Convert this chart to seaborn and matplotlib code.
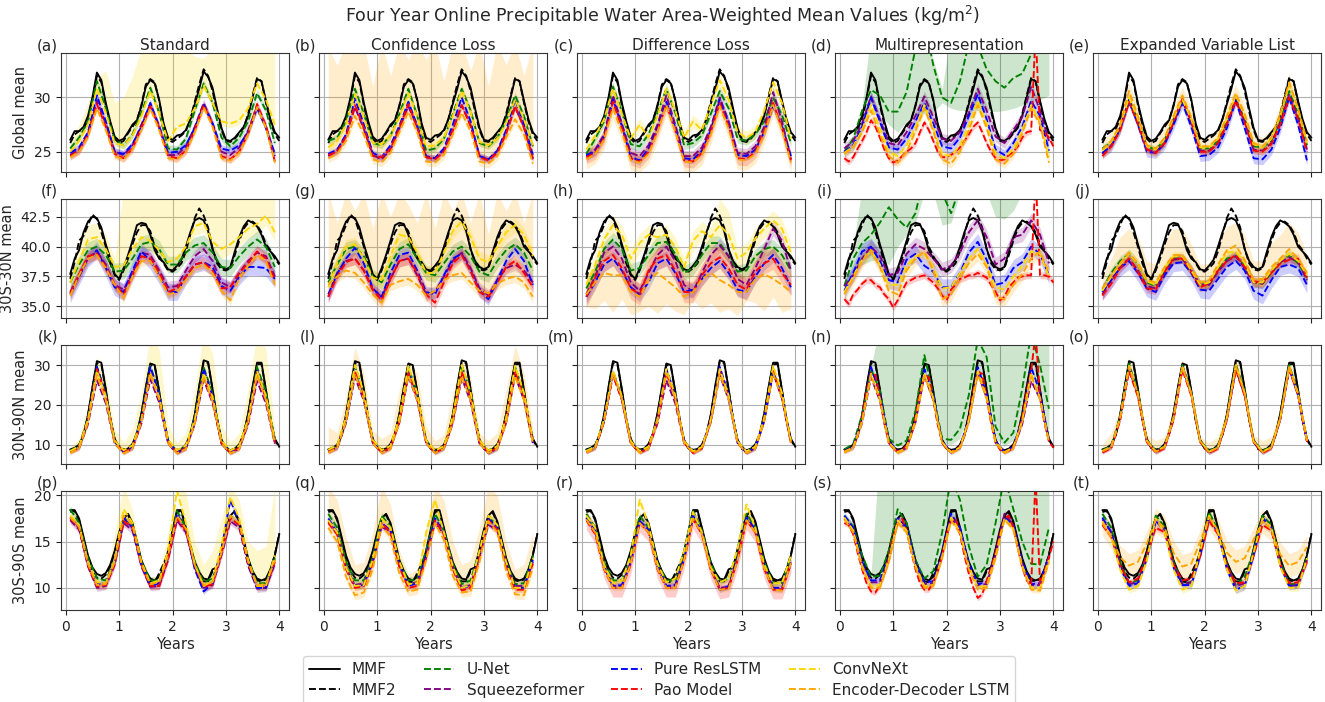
import numpy as np
import matplotlib
matplotlib.use("Agg")
import matplotlib.pyplot as plt
from matplotlib.lines import Line2D
import seaborn as sns

# ---------------------------------------------------------------- data
monthly_years = np.arange(1, 49) / 12.0        # 48 monthly samples
bimonthly_years = np.arange(1, 48, 2) / 12.0   # 24 samples (odd months)

experiments = ["Standard", "Confidence Loss", "Difference Loss",
               "Multirepresentation", "Expanded Variable List"]
regions = ["Global mean", "30S-30N mean", "30N-90N mean", "30S-90S mean"]
model_names = ["U-Net", "Squeezeformer", "Pure ResLSTM", "Pao Model",
               "ConvNeXt", "Encoder-Decoder LSTM"]
model_colors = ["green", "purple", "blue", "red", "gold", "orange"]
panel_letters = "abcdefghijklmnopqrst"
region_yticks = [[25, 30], [35.0, 37.5, 40.0, 42.5], [10, 20, 30], [10, 15, 20]]
region_ylims = [(23.1, 34.1), (34.0, 44.0), (5.1, 35.1), (7.6, 20.5)]

# reference simulations (monthly)
mmf_global = [26.1, 26.9, 26.9, 27.3, 28.3, 30.0, 32.3, 31.6, 29.5, 27.8, 26.4, 26.0,
              26.2, 26.8, 27.5, 27.9, 29.2, 31.0, 31.6, 31.3, 29.8, 27.6, 26.3, 26.1,
              26.5, 26.6, 27.0, 28.0, 29.4, 30.8, 32.4, 31.9, 30.9, 29.0, 27.2, 26.1,
              26.0, 26.3, 26.8, 27.3, 28.3, 30.0, 31.7, 31.5, 29.7, 28.0, 26.8, 26.3]
mmf2_global = [25.8, 26.6, 26.9, 27.1, 28.0, 29.8, 32.0, 31.4, 29.3, 27.5, 26.2, 25.8,
               26.0, 26.7, 27.3, 27.9, 29.3, 31.2, 31.7, 31.4, 29.7, 27.4, 26.1, 25.9,
               26.2, 26.5, 26.9, 28.0, 29.6, 31.2, 32.6, 32.0, 30.6, 28.7, 27.0, 26.0,
               25.9, 26.2, 26.7, 27.2, 28.5, 30.2, 31.8, 31.5, 29.5, 27.8, 26.6, 26.0]
mmf_tropics = [37.7, 39.0, 39.7, 41.2, 42.1, 42.5, 42.4, 41.6, 40.2, 39.0, 37.7, 37.3,
               38.2, 39.3, 40.5, 41.8, 42.0, 41.9, 41.0, 39.7, 39.0, 38.7, 38.1, 38.0,
               38.4, 38.9, 40.0, 41.2, 42.2, 42.4, 42.2, 41.3, 39.8, 38.8, 38.3, 38.1,
               38.3, 39.6, 40.8, 41.7, 42.2, 42.0, 41.7, 41.0, 40.0, 39.6, 39.2, 38.6]
mmf2_tropics = [37.3, 38.7, 40.5, 40.9, 41.8, 42.7, 42.3, 41.2, 40.0, 38.6, 37.6, 37.2,
                38.0, 39.0, 40.2, 41.2, 41.8, 41.8, 41.3, 40.0, 39.2, 38.6, 38.0, 37.9,
                38.2, 38.6, 39.6, 41.0, 42.4, 43.2, 42.6, 41.6, 39.8, 38.6, 38.1, 38.0,
                38.2, 39.3, 40.5, 41.5, 42.0, 42.1, 41.8, 41.2, 40.2, 39.7, 39.0, 38.5]
mmf_north = [8.8, 9.2, 10.0, 12.5, 17.5, 24.5, 31.0, 30.6, 24.0, 16.5, 11.5, 9.3,
             8.8, 9.0, 10.2, 12.8, 17.8, 24.5, 30.4, 30.0, 23.5, 16.2, 11.2, 9.2,
             8.7, 8.9, 10.0, 12.6, 17.6, 24.8, 31.2, 30.8, 24.0, 16.5, 11.3, 9.1,
             8.6, 9.0, 10.1, 12.7, 17.8, 24.6, 30.6, 30.6, 23.8, 16.4, 11.5, 9.5]
mmf2_north = [8.6, 9.0, 9.8, 12.3, 17.3, 24.2, 30.5, 30.2, 23.6, 16.2, 11.3, 9.1,
              8.6, 8.9, 10.0, 12.6, 17.6, 24.2, 30.0, 29.8, 23.2, 16.0, 11.0, 9.0,
              8.5, 8.8, 9.8, 12.4, 17.4, 24.5, 30.8, 30.5, 23.8, 16.3, 11.1, 8.9,
              8.5, 8.8, 9.9, 12.5, 17.6, 24.3, 30.2, 30.3, 23.5, 16.2, 11.3, 9.3]
mmf_south = [18.4, 18.4, 17.5, 15.5, 13.5, 12.2, 11.5, 11.3, 11.6, 12.5, 14.0, 16.0,
             17.5, 18.0, 17.0, 15.0, 13.0, 11.8, 11.0, 10.8, 11.2, 12.2, 14.0, 16.2,
             18.4, 18.4, 16.5, 14.5, 12.8, 11.7, 11.0, 10.9, 12.0, 12.2, 14.2, 16.3,
             17.8, 18.3, 17.2, 15.2, 13.2, 11.8, 11.0, 10.8, 11.0, 12.0, 13.5, 15.8]
mmf2_south = [18.2, 18.3, 17.3, 15.3, 13.2, 11.8, 11.1, 11.0, 11.4, 12.3, 13.8, 15.8,
              17.4, 17.9, 16.8, 14.8, 12.8, 11.5, 10.7, 10.6, 11.6, 12.6, 13.8, 16.0,
              18.2, 18.3, 16.3, 14.3, 12.5, 11.4, 10.7, 10.7, 11.8, 12.2, 14.0, 16.1,
              17.6, 18.1, 17.0, 15.0, 13.0, 11.5, 10.8, 10.7, 10.9, 11.9, 13.6, 15.9]

# ---- emulator means, Global mean row
panel_a = {
    "U-Net": [25.3, 26.3, 27.8, 31.5, 29.0, 26.0, 25.6, 26.6, 28.6, 30.9, 28.6, 25.3,
              25.2, 26.2, 28.8, 31.3, 29.5, 26.3, 25.5, 26.3, 27.8, 30.4, 28.8, 25.8],
    "Squeezeformer": [24.7, 25.2, 26.6, 29.7, 27.6, 25.0, 24.7, 25.6, 27.5, 29.4, 27.4, 24.7,
                      24.7, 25.5, 27.3, 29.5, 27.6, 25.0, 24.7, 25.4, 27.0, 29.2, 27.3, 24.6],
    "Pure ResLSTM": [24.9, 25.4, 26.8, 30.2, 27.8, 25.0, 24.8, 25.7, 27.3, 29.5, 27.2, 24.9,
                     25.0, 25.6, 27.2, 29.3, 27.6, 25.3, 25.1, 25.6, 26.8, 29.0, 27.2, 24.8],
    "Pao Model": [24.6, 25.1, 26.6, 29.4, 27.3, 24.8, 24.4, 25.3, 27.2, 29.2, 27.2, 24.6,
                  24.4, 25.1, 27.0, 29.3, 27.5, 24.6, 24.3, 25.0, 26.7, 29.4, 27.4, 24.1],
    "ConvNeXt": [25.0, 26.0, 27.5, 30.8, 28.6, 25.8, 25.6, 26.5, 28.3, 30.6, 28.5, 26.0,
                 27.3, 27.6, 29.0, 31.1, 29.5, 27.8, 27.6, 27.9, 29.0, 31.3, 29.8, 27.5],
    "Encoder-Decoder LSTM": [24.5, 25.0, 26.4, 29.0, 27.0, 24.6, 24.3, 25.2, 27.0, 29.0, 27.0, 24.4,
                             24.3, 25.0, 26.8, 29.1, 27.3, 24.4, 24.2, 24.9, 26.6, 29.1, 27.2, 24.0],
}
panel_b = {
    "U-Net": [26.0, 26.3, 27.8, 30.8, 28.5, 25.8, 25.6, 26.5, 28.5, 30.8, 28.3, 25.1,
              25.3, 26.2, 28.5, 30.8, 28.8, 25.8, 25.5, 26.3, 27.9, 30.2, 28.3, 25.5],
    "Squeezeformer": [24.6, 25.1, 26.5, 29.1, 27.1, 24.7, 24.3, 25.2, 27.2, 29.2, 27.3, 24.6,
                      24.4, 25.2, 27.0, 29.3, 27.4, 24.6, 24.3, 25.0, 26.8, 29.1, 27.3, 24.3],
    "Pure ResLSTM": [24.8, 25.2, 26.6, 29.9, 27.5, 24.9, 24.5, 25.6, 27.4, 29.6, 27.4, 24.5,
                     24.4, 25.3, 27.5, 30.0, 27.8, 24.6, 24.3, 25.1, 27.0, 29.8, 27.6, 24.7],
    "Pao Model": [24.7, 25.0, 26.4, 29.3, 27.2, 24.6, 24.5, 25.3, 27.2, 29.4, 27.2, 24.5,
                  24.3, 25.0, 27.0, 29.3, 27.4, 24.5, 24.2, 24.9, 26.7, 29.2, 27.2, 24.4],
    "ConvNeXt": [25.4, 26.0, 27.5, 30.3, 28.2, 25.8, 25.7, 26.5, 28.2, 30.4, 28.2, 25.5,
                 25.6, 26.3, 28.3, 30.6, 28.6, 25.9, 25.6, 26.2, 27.7, 29.8, 28.0, 25.6],
    "Encoder-Decoder LSTM": [24.4, 24.8, 26.0, 28.3, 26.6, 24.3, 24.0, 24.9, 26.8, 28.7, 26.8, 24.1,
                             24.0, 24.7, 26.6, 28.6, 26.9, 24.1, 23.9, 24.6, 26.3, 28.0, 26.6, 23.9],
}
panel_c = {
    "U-Net": [24.8, 26.2, 27.8, 31.0, 28.7, 25.7, 25.5, 26.6, 28.6, 30.8, 28.6, 25.6,
              25.8, 26.5, 28.5, 30.6, 29.0, 26.2, 26.0, 26.6, 27.8, 30.0, 28.4, 25.8],
    "Squeezeformer": [24.6, 25.2, 26.6, 30.2, 27.6, 24.9, 24.6, 25.6, 27.5, 30.2, 27.5, 24.6,
                      24.6, 25.4, 27.3, 30.0, 27.8, 24.9, 24.8, 25.5, 27.3, 30.5, 27.8, 24.3],
    "Pure ResLSTM": [24.7, 25.0, 26.4, 29.8, 27.4, 24.5, 24.2, 25.3, 27.2, 29.6, 27.2, 24.4,
                     24.3, 25.1, 27.0, 29.8, 27.6, 24.7, 24.6, 25.2, 26.8, 29.2, 27.3, 24.6],
    "Pao Model": [24.5, 24.9, 26.3, 29.6, 27.2, 24.4, 24.1, 25.0, 27.0, 29.3, 27.0, 24.2,
                  24.1, 24.9, 26.9, 29.5, 27.4, 24.4, 24.3, 25.0, 26.9, 29.5, 27.2, 24.2],
    "ConvNeXt": [25.2, 26.5, 28.0, 30.8, 28.5, 26.2, 27.5, 26.3, 28.3, 30.8, 28.8, 26.3,
                 27.8, 27.0, 29.3, 31.6, 29.8, 26.8, 26.3, 26.8, 28.8, 31.4, 29.5, 26.2],
    "Encoder-Decoder LSTM": [24.3, 24.8, 26.1, 29.0, 26.8, 24.2, 24.0, 24.8, 26.8, 29.3, 26.9, 24.1,
                             24.0, 24.7, 26.6, 29.2, 27.1, 24.3, 24.2, 24.8, 26.6, 29.3, 27.0, 24.0],
}
panel_d = {
    "U-Net": [25.0, 26.2, 28.8, 30.7, 30.2, 28.7, 28.7, 30.5, 34.5, 37.0, 33.0, 30.0,
              29.5, 31.5, 35.0, 34.8, 32.6, 31.5, 30.9, 31.8, 32.2, 34.0, 36.5, 37.0],
    "Squeezeformer": [25.3, 26.0, 27.6, 30.1, 28.0, 25.8, 25.6, 26.8, 28.3, 30.1, 28.2, 26.2,
                      26.0, 26.8, 28.6, 30.8, 28.8, 26.4, 25.8, 27.0, 28.2, 31.0, 28.8, 26.0],
    "Pure ResLSTM": [25.0, 25.6, 27.3, 30.0, 27.8, 25.4, 25.2, 26.2, 27.8, 29.5, 27.6, 25.5,
                     25.3, 26.3, 28.3, 30.3, 28.0, 25.2, 24.7, 25.8, 27.3, 29.7, 28.3, 25.1],
    "Pao Model": [24.4, 24.1, 24.5, 25.3, 26.0, 26.8, 27.9, 27.3, 26.3, 25.2, 24.4, 24.0,
                  24.2, 24.6, 25.0, 25.3, 25.8, 26.8, 27.7, 27.0, 26.0, 25.0, 24.5, 24.5,
                  24.7, 25.0, 25.4, 26.0, 26.6, 27.3, 27.7, 26.8, 25.8, 25.0, 24.4, 24.2,
                  24.3, 24.7, 25.0, 25.5, 26.3, 26.8, 26.9, 36.0, 27.0, 26.8, 26.3, 25.5],
    "ConvNeXt": [24.9, 25.5, 27.0, 29.3, 27.2, 25.0, 24.6, 25.6, 27.3, 29.3, 27.2, 24.8,
                 24.6, 25.6, 27.5, 29.7, 27.6, 24.8, 24.4, 25.3, 27.0, 29.3, 27.8, 24.5],
    "Encoder-Decoder LSTM": [24.8, 25.4, 26.8, 28.8, 26.6, 24.6, 24.0, 25.0, 26.9, 29.0, 26.9, 24.3,
                             23.9, 25.0, 27.0, 29.3, 27.2, 24.3, 23.9, 24.8, 26.7, 29.0, 27.5, 24.0],
}
panel_e = {
    "U-Net": [25.3, 25.9, 27.3, 29.8, 27.9, 25.5, 25.2, 26.1, 28.0, 29.7, 27.9, 25.3,
              25.3, 26.0, 27.8, 29.8, 28.0, 25.5, 25.4, 26.0, 27.9, 30.6, 28.5, 25.6],
    "Squeezeformer": [24.8, 25.6, 27.1, 29.6, 27.6, 25.2, 25.0, 25.8, 27.7, 29.7, 27.7, 25.1,
                      25.1, 25.8, 27.6, 29.8, 27.8, 25.2, 25.1, 25.8, 27.7, 30.3, 28.1, 25.2],
    "Pure ResLSTM": [24.9, 25.5, 27.1, 29.8, 27.5, 25.0, 24.9, 25.7, 27.5, 29.5, 27.3, 24.6,
                     24.7, 25.4, 27.2, 29.7, 27.2, 24.4, 24.3, 25.2, 27.2, 30.0, 27.5, 24.2],
    "Pao Model": [24.6, 25.5, 27.0, 29.6, 27.6, 25.2, 24.9, 25.8, 27.8, 29.9, 27.8, 25.0,
                  25.0, 25.8, 27.6, 29.7, 27.7, 25.1, 25.0, 25.7, 27.5, 30.0, 28.0, 25.0],
    "ConvNeXt": [25.1, 25.9, 27.4, 30.0, 28.0, 25.5, 25.2, 26.2, 28.1, 29.8, 28.0, 25.4,
                 25.4, 26.2, 28.1, 30.2, 28.3, 25.7, 25.4, 26.2, 28.3, 31.2, 28.8, 25.8],
    "Encoder-Decoder LSTM": [25.2, 26.0, 27.5, 30.6, 28.3, 25.6, 25.3, 26.3, 28.3, 30.2, 28.2, 25.5,
                             25.5, 26.3, 28.3, 30.4, 28.5, 25.8, 25.5, 26.3, 28.5, 31.4, 29.0, 26.0],
}

# ---- 30S-30N row
panel_f = {
    "U-Net": [37.0, 38.5, 39.7, 40.0, 39.3, 37.9, 38.0, 39.0, 40.2, 40.4, 39.8, 38.5,
              38.5, 39.5, 40.1, 40.3, 39.5, 38.3, 38.2, 39.2, 40.0, 40.6, 40.0, 38.3],
    "Squeezeformer": [36.2, 37.6, 39.0, 39.6, 38.5, 36.8, 36.4, 37.8, 39.5, 39.3, 38.0, 36.6,
                      36.7, 38.0, 39.2, 39.8, 38.8, 37.0, 36.6, 37.8, 38.8, 39.5, 39.2, 37.5],
    "Pure ResLSTM": [36.0, 37.5, 39.0, 39.7, 38.2, 36.6, 36.2, 38.0, 39.6, 38.8, 37.6, 36.2,
                     36.2, 37.5, 38.5, 38.7, 38.3, 36.7, 36.3, 37.5, 38.3, 38.3, 38.2, 37.3],
    "Pao Model": [36.1, 37.7, 39.2, 39.4, 38.3, 36.8, 36.0, 37.6, 39.2, 39.0, 37.8, 36.2,
                  36.5, 37.5, 38.5, 38.7, 38.0, 36.5, 36.6, 37.8, 38.6, 39.6, 39.0, 37.2],
    "ConvNeXt": [37.0, 38.8, 40.6, 40.8, 39.8, 38.3, 38.4, 39.8, 40.8, 40.5, 39.7, 38.7,
                 39.0, 40.0, 41.7, 42.0, 40.4, 39.8, 40.2, 40.8, 41.5, 41.9, 42.6, 41.2],
    "Encoder-Decoder LSTM": [35.9, 37.6, 39.0, 39.3, 38.2, 36.8, 35.7, 37.5, 38.8, 38.8, 37.5, 36.0,
                             36.2, 37.2, 38.2, 38.5, 37.8, 36.3, 35.5, 37.4, 38.4, 39.3, 38.8, 36.8],
}
panel_g = {
    "U-Net": [37.0, 38.5, 39.8, 40.0, 39.2, 37.5, 37.0, 38.5, 39.8, 40.2, 39.0, 37.8,
              37.6, 38.6, 39.6, 40.0, 39.2, 37.9, 37.6, 38.8, 39.7, 40.2, 39.5, 38.0],
    "Squeezeformer": [35.8, 37.8, 38.8, 39.0, 38.0, 36.4, 35.8, 37.3, 38.8, 39.0, 37.6, 36.0,
                      36.2, 37.5, 38.8, 39.5, 38.2, 36.5, 35.9, 37.2, 38.2, 38.5, 38.0, 37.0],
    "Pure ResLSTM": [36.0, 37.7, 39.0, 39.9, 38.6, 36.5, 35.8, 37.8, 39.3, 39.5, 38.0, 36.2,
                     36.0, 37.6, 39.0, 39.4, 38.0, 36.3, 35.6, 37.2, 38.8, 39.8, 38.8, 36.8],
    "Pao Model": [35.8, 37.5, 38.7, 39.0, 38.0, 36.4, 35.5, 37.3, 38.8, 39.0, 37.8, 36.0,
                  35.3, 37.0, 38.6, 39.3, 38.0, 36.2, 35.8, 37.0, 38.3, 38.8, 37.8, 36.6],
    "ConvNeXt": [36.6, 38.6, 40.0, 40.2, 39.0, 37.4, 37.2, 39.2, 41.0, 40.8, 39.5, 37.8,
                 37.8, 39.5, 41.3, 42.1, 40.8, 39.0, 38.7, 40.0, 41.2, 41.8, 41.0, 39.2],
    "Encoder-Decoder LSTM": [36.8, 37.5, 38.0, 37.8, 37.0, 36.0, 35.3, 36.8, 37.1, 37.3, 36.8, 35.9,
                             36.3, 37.2, 37.6, 37.8, 37.0, 36.3, 36.1, 36.9, 37.3, 37.5, 37.0, 35.8],
}
panel_h = {
    "U-Net": [36.5, 37.9, 39.8, 40.6, 39.8, 38.0, 38.2, 39.3, 40.3, 40.4, 39.4, 37.8,
              38.2, 39.3, 40.3, 40.3, 39.2, 37.9, 38.0, 39.2, 39.8, 40.0, 39.3, 38.0],
    "Squeezeformer": [36.0, 37.5, 39.5, 40.0, 39.0, 37.0, 36.3, 37.8, 39.3, 40.0, 38.8, 36.8,
                      36.2, 37.8, 39.3, 40.1, 39.2, 37.3, 36.8, 38.2, 39.8, 41.5, 40.5, 38.0],
    "Pure ResLSTM": [35.8, 37.0, 38.5, 39.0, 38.0, 36.6, 36.0, 37.0, 38.6, 39.0, 37.8, 36.2,
                     36.4, 37.3, 38.2, 38.8, 37.8, 36.4, 36.2, 37.5, 38.6, 39.3, 38.2, 36.6],
    "Pao Model": [35.8, 37.4, 38.8, 39.3, 38.2, 36.5, 36.0, 38.0, 39.0, 39.3, 38.0, 36.2,
                  36.2, 37.6, 38.6, 39.1, 38.2, 36.8, 36.4, 37.9, 38.6, 39.0, 37.8, 36.8],
    "ConvNeXt": [36.8, 38.5, 40.6, 41.8, 41.0, 39.0, 40.3, 41.0, 40.8, 41.0, 40.0, 38.3,
                 40.5, 41.3, 40.8, 41.8, 41.0, 39.0, 39.5, 40.7, 41.5, 42.2, 41.5, 39.5],
    "Encoder-Decoder LSTM": [36.0, 37.0, 37.8, 37.6, 37.6, 36.2, 35.8, 37.2, 37.8, 37.2, 36.6, 35.8,
                             36.2, 37.3, 37.8, 37.2, 36.8, 36.2, 36.2, 37.3, 37.7, 37.3, 36.8, 36.2],
}
panel_i = {
    "U-Net": [36.7, 39.0, 40.3, 41.0, 42.0, 43.3, 42.3, 41.6, 42.8, 46.0, 47.0, 44.5,
              42.8, 45.0, 47.0, 48.0, 48.0, 48.0, 48.0, 48.0, 48.0, 48.0, 48.0, 48.0],
    "Squeezeformer": [36.7, 37.6, 39.0, 40.0, 39.2, 37.6, 37.8, 39.4, 40.2, 39.8, 39.0, 38.1,
                      38.4, 39.5, 41.2, 42.2, 40.8, 38.5, 39.0, 40.8, 41.0, 42.2, 41.0, 38.6],
    "Pure ResLSTM": [36.3, 37.8, 39.6, 40.0, 38.8, 37.2, 37.0, 38.9, 39.4, 38.4, 37.9, 36.6,
                     36.6, 37.8, 39.5, 40.4, 38.9, 36.8, 37.0, 38.2, 38.7, 40.0, 39.4, 37.6],
    "Pao Model": [35.6, 35.2, 36.0, 36.4, 36.9, 37.2, 37.2, 36.8, 36.6, 36.0, 35.6, 34.9,
                  35.5, 36.3, 37.0, 37.2, 37.4, 37.5, 37.6, 37.3, 37.0, 36.5, 35.9, 35.5,
                  36.4, 36.8, 37.3, 37.4, 37.6, 37.6, 37.8, 37.6, 37.4, 36.8, 36.2, 35.5,
                  35.8, 36.6, 37.0, 37.4, 37.5, 37.6, 37.6, 46.0, 37.6, 37.6, 37.5, 37.0],
    "ConvNeXt": [36.2, 37.5, 38.9, 39.6, 38.5, 36.8, 36.8, 38.4, 39.2, 39.4, 38.3, 36.5,
                 36.6, 37.8, 39.0, 39.8, 38.5, 36.6, 36.4, 37.5, 38.4, 39.6, 39.4, 37.5],
    "Encoder-Decoder LSTM": [36.0, 37.3, 38.8, 39.7, 38.3, 36.3, 36.0, 38.0, 39.0, 39.6, 38.0, 35.6,
                             36.0, 37.4, 38.6, 39.4, 38.3, 35.8, 35.6, 36.8, 37.7, 39.0, 39.6, 37.8],
}
panel_j = {
    "U-Net": [36.4, 37.8, 38.8, 39.4, 38.5, 37.0, 36.7, 38.0, 39.0, 39.0, 38.0, 36.8,
              36.9, 38.0, 39.0, 39.2, 38.5, 37.0, 36.9, 37.8, 38.7, 39.3, 38.6, 37.4],
    "Squeezeformer": [36.0, 37.2, 38.3, 39.0, 38.0, 36.7, 36.5, 37.8, 38.9, 39.0, 38.0, 36.8,
                      36.8, 37.9, 38.8, 39.2, 38.2, 37.0, 36.9, 37.9, 38.7, 39.1, 38.7, 37.2],
    "Pure ResLSTM": [36.2, 37.2, 38.2, 38.8, 37.8, 36.5, 36.2, 37.6, 38.6, 38.7, 37.8, 36.4,
                     36.3, 37.3, 38.3, 38.8, 38.0, 36.3, 35.9, 37.2, 38.3, 38.5, 38.2, 36.8],
    "Pao Model": [35.9, 36.9, 38.2, 39.0, 37.9, 36.5, 36.4, 37.9, 39.0, 39.0, 37.9, 36.6,
                  36.9, 38.0, 38.8, 39.3, 38.3, 37.1, 37.0, 37.8, 38.6, 38.9, 39.0, 37.4],
    "ConvNeXt": [36.3, 37.5, 38.5, 39.4, 38.5, 37.1, 36.8, 38.2, 39.2, 39.2, 38.0, 36.8,
                 37.0, 38.3, 39.5, 39.6, 38.6, 37.0, 37.0, 38.0, 38.8, 39.4, 38.8, 37.6],
    "Encoder-Decoder LSTM": [36.5, 37.6, 38.6, 39.5, 38.6, 37.2, 37.0, 38.3, 39.3, 39.3, 38.2, 37.0,
                             37.2, 38.5, 39.7, 40.1, 38.9, 37.2, 37.3, 38.3, 39.0, 39.8, 39.0, 37.8],
}

# ---- 30N-90N row
panel_k = {
    "U-Net": [8.5, 9.6, 16.7, 29.6, 22.8, 11.0, 8.4, 9.7, 16.8, 29.8, 23.0, 11.0,
              8.3, 9.5, 16.6, 29.5, 22.8, 10.9, 8.3, 9.5, 16.6, 29.5, 23.3, 11.2],
    "Squeezeformer": [8.1, 9.1, 15.2, 26.2, 20.4, 10.3, 8.0, 9.1, 15.3, 26.5, 20.6, 10.3,
                      7.9, 9.0, 15.2, 26.3, 20.5, 10.2, 7.9, 9.0, 15.1, 26.0, 20.3, 10.2],
    "Pure ResLSTM": [8.3, 9.4, 16.5, 29.5, 22.6, 10.8, 8.2, 9.4, 16.5, 29.6, 22.6, 10.8,
                     8.1, 9.3, 16.2, 29.0, 22.2, 10.6, 8.1, 9.2, 16.1, 28.8, 22.0, 10.6],
    "Pao Model": [8.2, 9.3, 16.3, 29.0, 22.2, 10.7, 8.1, 9.2, 15.9, 28.2, 21.7, 10.5,
                  8.0, 9.1, 15.6, 27.5, 21.2, 10.4, 8.0, 9.2, 15.8, 28.0, 21.6, 10.5],
    "ConvNeXt": [8.4, 9.6, 16.3, 28.5, 22.2, 11.0, 8.6, 9.8, 16.2, 28.0, 22.0, 11.2,
                 8.6, 9.8, 16.3, 28.0, 22.0, 11.0, 8.5, 9.7, 16.4, 28.5, 22.3, 11.2],
    "Encoder-Decoder LSTM": [7.9, 9.0, 15.6, 27.5, 21.2, 10.4, 7.8, 9.0, 15.7, 27.8, 21.4, 10.4,
                             7.8, 8.9, 15.4, 27.0, 20.9, 10.3, 7.8, 8.9, 15.6, 27.5, 21.2, 10.4],
}
panel_l = {
    "U-Net": [8.6, 9.6, 16.8, 29.8, 22.9, 11.0, 8.5, 9.6, 16.7, 29.5, 22.8, 11.0,
              8.4, 9.5, 16.9, 30.0, 23.1, 11.0, 8.3, 9.5, 16.6, 29.5, 22.8, 11.2],
    "Squeezeformer": [8.2, 9.2, 15.5, 27.0, 21.0, 10.4, 8.1, 9.2, 15.6, 27.2, 21.1, 10.4,
                      8.0, 9.1, 15.4, 26.8, 20.8, 10.3, 8.0, 9.1, 15.6, 27.3, 21.2, 10.4],
    "Pure ResLSTM": [8.3, 9.3, 16.0, 28.0, 21.7, 10.6, 8.1, 9.3, 16.1, 28.2, 21.8, 10.6,
                     8.1, 9.2, 16.0, 28.0, 21.6, 10.5, 7.9, 9.1, 16.0, 28.0, 21.6, 10.5],
    "Pao Model": [8.2, 9.3, 16.2, 28.5, 22.0, 10.7, 8.1, 9.2, 16.0, 28.0, 21.7, 10.6,
                  8.0, 9.2, 16.2, 28.5, 22.0, 10.6, 8.0, 9.2, 16.2, 28.5, 22.0, 10.7],
    "ConvNeXt": [8.7, 9.8, 16.9, 30.0, 23.1, 11.2, 8.6, 9.7, 16.8, 29.8, 23.0, 11.1,
                 8.5, 9.6, 16.9, 30.0, 23.1, 11.1, 8.5, 9.6, 16.8, 29.8, 23.0, 11.2],
    "Encoder-Decoder LSTM": [8.0, 9.1, 15.8, 27.8, 21.4, 10.4, 7.9, 9.0, 15.6, 27.5, 21.2, 10.4,
                             7.9, 9.0, 15.5, 27.3, 21.1, 10.3, 7.9, 9.0, 15.5, 27.3, 21.1, 10.4],
}
panel_m = {
    "U-Net": [8.5, 9.5, 16.2, 28.5, 22.0, 10.8, 8.4, 9.5, 16.4, 29.0, 22.4, 10.8,
              8.3, 9.4, 16.3, 28.8, 22.2, 10.8, 8.3, 9.4, 16.3, 28.8, 22.3, 11.0],
    "Squeezeformer": [8.2, 9.2, 15.8, 27.5, 21.3, 10.5, 8.1, 9.1, 15.3, 26.2, 20.4, 10.3,
                      8.0, 9.1, 15.7, 27.5, 21.3, 10.4, 8.0, 9.1, 15.9, 28.0, 21.6, 10.5],
    "Pure ResLSTM": [8.3, 9.3, 16.0, 28.0, 21.7, 10.6, 8.2, 9.3, 16.4, 29.0, 22.4, 10.7,
                     8.1, 9.3, 16.6, 29.5, 22.7, 10.7, 8.1, 9.2, 16.2, 28.5, 22.0, 10.6],
    "Pao Model": [8.1, 9.1, 15.8, 27.5, 21.3, 10.4, 8.0, 9.1, 16.0, 28.0, 21.6, 10.5,
                  7.9, 9.1, 16.1, 28.5, 22.0, 10.5, 7.9, 9.1, 16.1, 28.5, 22.0, 10.5],
    "ConvNeXt": [8.4, 9.5, 16.3, 28.6, 22.1, 10.9, 8.4, 9.5, 16.4, 29.0, 22.4, 10.9,
                 8.3, 9.4, 16.4, 29.0, 22.4, 10.9, 8.3, 9.5, 16.7, 29.8, 23.0, 11.0],
    "Encoder-Decoder LSTM": [8.0, 9.1, 15.9, 28.0, 21.6, 10.4, 7.9, 9.0, 15.9, 28.0, 21.6, 10.4,
                             7.9, 9.0, 15.8, 27.8, 21.5, 10.4, 7.9, 9.0, 15.9, 28.0, 21.6, 10.5],
}
panel_n = {
    "U-Net": [8.8, 10.2, 17.5, 29.0, 23.6, 11.5, 9.8, 11.0, 18.5, 32.5, 22.5, 11.5,
              11.2, 14.0, 22.5, 36.5, 32.0, 14.5, 10.5, 13.0, 24.0, 38.0, 30.0, 19.0],
    "Squeezeformer": [8.2, 9.2, 15.5, 27.0, 21.0, 10.4, 8.1, 9.2, 15.6, 27.3, 21.2, 10.4,
                      8.0, 9.2, 15.9, 28.0, 21.7, 10.5, 8.0, 9.1, 15.2, 26.0, 21.5, 10.8],
    "Pure ResLSTM": [8.4, 9.5, 16.6, 29.5, 22.7, 10.9, 8.3, 9.4, 16.4, 29.0, 22.4, 10.8,
                     8.2, 9.4, 16.6, 29.5, 22.7, 10.8, 8.2, 9.4, 16.6, 29.5, 23.0, 11.0],
    "Pao Model": [8.4, 8.7, 9.6, 12.0, 16.8, 23.3, 28.0, 27.5, 21.8, 15.3, 10.8, 8.8,
                  8.4, 8.6, 9.8, 12.3, 17.0, 23.2, 27.5, 27.0, 21.3, 15.0, 10.6, 8.8,
                  8.3, 8.5, 9.6, 12.1, 16.8, 23.4, 28.3, 27.8, 21.8, 15.3, 10.7, 8.7,
                  8.2, 8.6, 9.7, 12.2, 17.0, 23.3, 28.5, 38.0, 22.0, 15.3, 10.9, 9.2],
    "ConvNeXt": [8.2, 9.3, 15.9, 27.8, 21.5, 10.6, 8.1, 9.3, 16.0, 28.0, 21.7, 10.6,
                 8.1, 9.3, 16.2, 28.5, 22.0, 10.6, 8.1, 9.3, 16.0, 28.0, 21.7, 10.7],
    "Encoder-Decoder LSTM": [8.0, 9.1, 15.7, 27.5, 21.3, 10.4, 7.9, 9.0, 15.6, 27.3, 21.2, 10.4,
                             7.9, 9.0, 15.8, 27.8, 21.5, 10.4, 7.9, 9.0, 15.7, 27.5, 21.3, 10.5],
}
panel_o = {
    "U-Net": [8.6, 9.7, 17.0, 30.3, 23.3, 11.1, 8.5, 9.6, 16.8, 30.0, 23.1, 11.0,
              8.4, 9.6, 16.9, 30.3, 23.3, 11.0, 8.4, 9.6, 16.8, 30.0, 23.1, 11.1],
    "Squeezeformer": [8.3, 9.4, 16.4, 29.0, 22.4, 10.8, 8.2, 9.4, 16.5, 29.3, 22.6, 10.8,
                      8.1, 9.3, 16.4, 29.0, 22.4, 10.7, 8.1, 9.3, 16.4, 29.0, 22.4, 10.8],
    "Pure ResLSTM": [8.3, 9.5, 16.6, 29.5, 22.7, 10.9, 8.2, 9.4, 16.7, 29.8, 22.9, 10.9,
                     8.1, 9.3, 16.6, 29.5, 22.7, 10.8, 8.1, 9.3, 16.5, 29.3, 22.5, 10.8],
    "Pao Model": [8.0, 9.1, 16.1, 28.5, 22.0, 10.6, 8.0, 9.1, 16.2, 28.8, 22.2, 10.6,
                  7.9, 9.0, 16.2, 28.8, 22.2, 10.6, 7.9, 9.1, 16.3, 29.0, 22.4, 10.7],
    "ConvNeXt": [8.4, 9.5, 16.8, 29.8, 22.9, 11.0, 8.3, 9.5, 16.8, 29.8, 22.9, 10.9,
                 8.2, 9.4, 16.8, 30.0, 23.0, 10.9, 8.2, 9.4, 16.6, 29.5, 22.7, 11.0],
    "Encoder-Decoder LSTM": [8.3, 9.4, 16.6, 29.5, 22.7, 10.9, 8.2, 9.4, 16.6, 29.5, 22.7, 10.9,
                             8.1, 9.3, 16.7, 29.8, 22.9, 10.9, 8.1, 9.3, 16.7, 29.8, 22.9, 11.0],
}

# ---- 30S-90S row
panel_p = {
    "U-Net": [18.5, 17.0, 13.2, 11.0, 10.8, 13.0, 17.5, 16.8, 12.8, 10.8, 10.8, 13.5,
              18.3, 16.5, 12.8, 10.6, 11.0, 13.8, 17.8, 16.8, 13.0, 10.5, 10.5, 13.2],
    "Squeezeformer": [17.3, 16.3, 12.3, 10.0, 10.2, 12.5, 17.0, 16.2, 12.3, 10.1, 10.2, 13.0,
                      17.3, 16.0, 12.2, 10.0, 10.3, 13.5, 17.2, 16.5, 12.4, 9.9, 10.0, 12.6],
    "Pure ResLSTM": [17.6, 16.5, 12.5, 10.4, 10.5, 12.8, 17.6, 16.5, 12.5, 10.2, 10.5, 13.5,
                     18.0, 16.3, 12.0, 9.6, 10.5, 14.2, 19.5, 17.0, 12.5, 10.0, 10.0, 13.0],
    "Pao Model": [17.5, 16.5, 12.4, 10.2, 10.3, 12.6, 17.2, 16.6, 12.5, 10.2, 10.2, 13.2,
                  17.5, 16.2, 12.4, 10.1, 10.4, 13.8, 17.5, 16.8, 12.6, 10.2, 10.2, 12.8],
    "ConvNeXt": [17.8, 16.8, 12.8, 10.6, 10.5, 13.0, 18.5, 17.0, 12.8, 10.5, 10.8, 14.0,
                 20.5, 17.0, 12.5, 10.2, 10.8, 14.5, 19.8, 17.5, 13.0, 10.2, 10.2, 13.5],
    "Encoder-Decoder LSTM": [17.6, 16.6, 12.6, 10.3, 10.4, 12.8, 17.8, 16.8, 12.6, 10.4, 10.6, 13.5,
                             17.8, 16.4, 12.5, 10.3, 10.6, 13.8, 17.8, 17.0, 12.8, 10.3, 10.4, 13.0],
}
panel_q = {
    "U-Net": [18.0, 16.5, 12.8, 10.8, 10.8, 13.2, 17.8, 16.6, 12.8, 10.8, 10.9, 14.0,
              18.0, 16.2, 12.6, 10.4, 10.8, 14.0, 17.6, 16.8, 12.8, 10.4, 10.5, 13.5],
    "Squeezeformer": [17.2, 15.8, 12.2, 10.3, 10.5, 12.8, 16.6, 16.0, 12.4, 10.4, 10.6, 13.3,
                      17.0, 15.8, 12.2, 10.0, 10.3, 13.4, 16.8, 16.2, 12.5, 10.2, 10.2, 12.8],
    "Pure ResLSTM": [17.5, 16.0, 12.2, 10.2, 10.3, 12.8, 17.0, 16.2, 12.4, 10.2, 10.5, 13.5,
                     17.5, 16.0, 12.2, 10.0, 10.2, 13.5, 17.5, 16.5, 12.5, 10.0, 10.0, 13.0],
    "Pao Model": [17.0, 15.8, 12.0, 10.0, 10.2, 12.6, 17.0, 16.0, 12.2, 10.0, 10.2, 13.2,
                  17.3, 15.8, 12.0, 9.7, 10.0, 13.2, 17.3, 16.3, 12.3, 9.8, 9.8, 12.6],
    "ConvNeXt": [17.3, 16.0, 12.2, 10.2, 10.3, 13.0, 17.5, 16.5, 12.8, 10.4, 10.5, 16.0,
                 19.5, 16.0, 12.3, 10.0, 10.3, 14.0, 17.8, 16.8, 12.8, 10.0, 10.0, 13.2],
    "Encoder-Decoder LSTM": [16.5, 15.0, 11.2, 9.2, 9.5, 12.0, 16.8, 15.5, 11.5, 9.6, 9.8, 13.0,
                             17.0, 15.2, 11.3, 9.5, 9.6, 12.8, 17.2, 16.0, 11.8, 9.3, 9.2, 12.2],
}
panel_r = {
    "U-Net": [18.0, 16.5, 12.8, 10.8, 10.8, 13.5, 17.8, 16.5, 12.7, 10.8, 10.8, 13.8,
              18.3, 16.2, 12.6, 10.6, 11.0, 14.0, 18.0, 16.6, 12.8, 10.5, 10.5, 13.5],
    "Squeezeformer": [17.5, 16.0, 12.2, 10.2, 10.2, 12.7, 17.2, 16.1, 12.2, 10.2, 10.2, 13.1,
                      17.6, 15.9, 12.1, 10.0, 10.1, 13.1, 17.4, 16.1, 12.2, 9.9, 9.8, 12.7],
    "Pure ResLSTM": [17.6, 16.2, 12.3, 10.2, 10.3, 12.8, 17.2, 16.3, 12.4, 10.2, 10.3, 13.2,
                     17.8, 16.0, 12.2, 9.8, 10.2, 13.3, 17.6, 16.3, 12.4, 10.0, 10.0, 12.8],
    "Pao Model": [17.3, 15.8, 12.0, 10.0, 10.0, 12.5, 17.0, 16.0, 12.0, 10.0, 10.0, 13.0,
                  17.4, 15.8, 11.9, 9.8, 10.0, 13.0, 17.3, 16.0, 12.0, 9.8, 9.8, 12.6],
    "ConvNeXt": [17.8, 16.5, 12.5, 10.5, 10.8, 13.5, 19.5, 16.8, 12.6, 10.6, 11.0, 14.0,
                 18.2, 16.0, 12.2, 10.6, 11.0, 14.2, 19.0, 16.5, 12.5, 10.5, 10.5, 13.5],
    "Encoder-Decoder LSTM": [17.4, 16.0, 12.1, 10.0, 10.0, 12.6, 17.0, 16.0, 12.1, 10.0, 10.0, 13.0,
                             17.5, 15.8, 12.0, 9.8, 9.9, 13.0, 17.3, 16.0, 12.1, 9.8, 9.7, 12.7],
}
panel_s = {
    "U-Net": [17.8, 16.6, 13.5, 11.2, 11.3, 14.0, 18.5, 17.0, 13.0, 11.0, 11.8, 16.0,
              22.0, 19.5, 14.5, 11.2, 12.5, 17.0, 22.0, 18.5, 15.0, 12.6, 12.5, 16.5],
    "Squeezeformer": [17.5, 16.3, 12.6, 10.6, 10.6, 13.0, 17.2, 16.4, 12.5, 10.4, 10.5, 13.5,
                      17.5, 16.4, 12.5, 10.3, 10.4, 13.6, 18.0, 16.8, 12.7, 10.3, 10.3, 13.3],
    "Pure ResLSTM": [17.8, 16.5, 12.8, 10.8, 10.8, 13.3, 17.5, 16.6, 12.7, 10.6, 10.7, 13.8,
                     18.0, 16.5, 12.6, 10.4, 10.6, 13.8, 17.6, 16.8, 12.8, 10.4, 10.5, 13.5],
    "Pao Model": [17.0, 16.8, 15.8, 13.8, 12.0, 10.5, 9.6, 9.5, 10.3, 11.5, 13.2, 15.5,
                  17.0, 17.5, 16.2, 14.0, 12.0, 10.5, 9.8, 9.8, 10.6, 11.8, 13.5, 15.8,
                  17.3, 17.5, 15.8, 13.5, 11.5, 10.0, 8.9, 9.3, 10.8, 12.2, 13.8, 15.8,
                  17.5, 17.8, 16.5, 14.3, 12.2, 10.8, 10.2, 22.0, 10.4, 11.8, 13.3, 15.0],
    "ConvNeXt": [17.6, 16.2, 12.4, 10.2, 10.3, 13.0, 17.3, 16.2, 12.4, 10.2, 10.3, 13.4,
                 17.6, 16.1, 12.3, 10.1, 10.2, 13.4, 17.5, 16.4, 12.4, 10.0, 10.0, 13.0],
    "Encoder-Decoder LSTM": [17.4, 16.0, 12.2, 10.0, 10.0, 12.8, 17.0, 16.0, 12.2, 10.0, 10.2, 13.2,
                             17.3, 15.9, 12.0, 9.8, 10.0, 13.2, 17.4, 16.3, 12.2, 9.8, 9.7, 12.8],
}
panel_t = {
    "U-Net": [18.0, 16.5, 12.8, 10.5, 10.8, 13.5, 17.8, 16.6, 12.8, 10.5, 10.6, 13.8,
              18.2, 16.2, 12.6, 10.2, 11.2, 14.0, 17.8, 16.8, 12.8, 10.4, 10.4, 13.3],
    "Squeezeformer": [17.4, 16.0, 12.5, 10.4, 10.6, 13.2, 17.3, 16.2, 12.5, 10.4, 10.6, 13.5,
                      17.6, 16.0, 12.4, 10.2, 10.5, 13.5, 17.4, 16.4, 12.6, 10.2, 10.3, 13.0],
    "Pure ResLSTM": [17.6, 16.0, 12.2, 10.2, 10.5, 13.2, 17.2, 16.3, 12.2, 10.3, 10.3, 13.5,
                     17.6, 16.0, 12.0, 9.8, 10.2, 13.5, 17.6, 16.5, 12.4, 10.2, 10.3, 13.0],
    "Pao Model": [16.8, 15.5, 12.4, 10.6, 11.0, 13.5, 16.5, 16.0, 12.5, 10.8, 11.0, 13.5,
                  17.2, 15.8, 12.3, 10.5, 10.6, 13.5, 16.8, 16.2, 12.5, 10.5, 10.6, 12.8],
    "ConvNeXt": [17.2, 15.5, 12.0, 9.8, 10.2, 13.0, 17.5, 16.0, 12.0, 9.8, 10.2, 14.0,
                 17.8, 16.0, 12.0, 9.7, 10.2, 13.8, 17.5, 16.5, 12.3, 10.0, 10.0, 13.2],
    "Encoder-Decoder LSTM": [17.0, 15.5, 13.3, 12.4, 12.8, 14.8, 17.3, 16.5, 13.8, 12.3, 12.6, 15.0,
                             17.6, 16.2, 13.8, 12.8, 13.2, 15.2, 17.2, 16.3, 13.6, 12.4, 12.8, 14.4],
}

# ensemble spread (half-width of the shaded range), model order as model_names
spread_a = [0.35, 0.35, 0.35, 0.35, 0.4, 0.3]
spread_b = [0.3, 0.3, 0.3, 0.3, 0.35, 0.4]
spread_c = [0.4, 0.5, 0.4, 0.6, 0.6, 0.9]
spread_d = [0.3, 0.5, 0.5, 0.3, 0.3, 0.4]
spread_e = [0.3, 0.3, 0.5, 0.3, 0.3, 0.8]
spread_f = [0.7, 0.5, 0.7, 0.5, 0.8, 0.4]
spread_g = [0.6, 0.5, 0.5, 0.5, 0.6, 0.5]
spread_h = [0.6, 0.6, 0.6, 0.9, 0.8, 1.0]
spread_i = [0.4, 0.6, 0.7, 0.3, 0.3, 0.6]
spread_j = [0.4, 0.4, 0.7, 0.4, 0.4, 0.5]
spread_k = [0.5, 0.5, 0.5, 0.5, 0.6, 0.5]
spread_l = [0.5, 0.5, 0.5, 0.5, 0.5, 0.6]
spread_m = [0.4, 0.4, 0.6, 0.4, 0.5, 0.4]
spread_n = [0.4, 0.5, 0.5, 0.3, 0.4, 0.4]
spread_o = [0.4, 0.4, 0.6, 0.4, 0.4, 0.6]
spread_p = [0.4, 0.4, 0.3, 0.4, 0.5, 0.3]
spread_q = [0.4, 0.3, 0.3, 0.3, 0.4, 0.5]
spread_r = [0.3, 0.3, 0.3, 1.0, 0.4, 0.3]
spread_s = [0.3, 0.4, 0.4, 0.3, 0.3, 0.3]
spread_t = [0.3, 0.3, 0.4, 0.3, 0.4, 1.3]

# ensembles with an unstable member: explicit (lower, upper) range
envelope_a = {"ConvNeXt": (None, [26.0, 27.5, 29.5, 31.8, 32.5, 29.5, 30.0, 32.0, 34.5, 35.0, 35.0, 35.0,
                                  35.0, 34.5, 33.8, 33.6, 34.5, 35.0, 35.0, 35.0, 35.0, 35.0, 35.0, 35.0])}
envelope_b = {"Encoder-Decoder LSTM": (None, [34.5, 33.0, 35.0, 34.0, 35.0, 31.0, 35.0, 32.0, 35.0, 33.5, 35.0, 33.5,
                                              35.0, 31.5, 35.0, 35.0, 32.5, 35.0, 31.0, 35.0, 33.0, 35.0, 32.0, 35.0])}
envelope_d = {"U-Net": ([24.7, 25.9, 28.5, 29.5, 28.5, 27.5, 26.8, 27.8, 28.3, 28.5, 28.6, 29.5,
                         29.0, 28.8, 28.8, 28.8, 28.8, 28.7, 28.8, 29.0, 29.3, 29.5, 29.8, 30.2],
                        [25.3, 26.5, 29.2, 36.0, 36.0, 36.0, 36.0, 36.0, 36.0, 36.0, 33.5, 30.8,
                         36.0, 36.0, 36.0, 36.0, 36.0, 36.0, 36.0, 36.0, 36.0, 36.0, 36.0, 36.0])}
envelope_f = {"ConvNeXt": (None, [38.0, 40.5, 41.8, 42.0, 41.0, 39.0, 45.0, 45.0, 45.0, 45.0, 45.0, 45.0,
                                  45.0, 45.0, 45.0, 45.0, 45.0, 45.0, 45.0, 45.0, 45.0, 45.0, 45.0, 45.0])}
envelope_g = {"Encoder-Decoder LSTM": (None, [44.5, 42.0, 44.5, 43.0, 44.5, 41.5, 44.5, 42.5, 44.5, 43.5, 42.0, 44.5,
                                              41.5, 44.5, 43.0, 44.5, 42.0, 44.5, 41.0, 44.5, 43.0, 44.5, 42.0, 44.5])}
envelope_h = {
    "ConvNeXt": (None, [37.6, 39.3, 41.4, 42.6, 41.8, 39.8, 41.1, 41.8, 41.6, 41.8, 40.8, 39.1,
                        41.3, 42.1, 41.6, 44.0, 43.0, 39.8, 40.3, 41.5, 42.3, 43.0, 42.3, 40.3]),
    "Encoder-Decoder LSTM": ([35.0, 34.8, 35.5, 34.5, 35.6, 34.3, 34.6, 35.0, 34.4, 35.2, 34.6, 34.3,
                              35.5, 34.8, 35.3, 34.5, 34.8, 34.2, 35.5, 35.3, 34.6, 35.8, 34.5, 34.8],
                             [37.5, 38.5, 39.8, 39.5, 39.0, 38.5, 37.5, 39.5, 40.0, 39.5, 39.0, 38.0,
                              38.5, 39.5, 40.2, 40.0, 39.0, 38.0, 38.5, 39.5, 40.0, 40.0, 39.5, 38.0]),
}
envelope_i = {"U-Net": ([36.4, 38.0, 38.5, 38.8, 39.0, 38.5, 40.0, 41.0, 42.0, 44.5, 44.5, 41.8,
                         42.0, 44.5, 44.5, 44.5, 44.5, 42.5, 42.3, 43.0, 44.5, 44.5, 44.5, 44.5],
                        [37.0, 40.0, 45.0, 45.0, 45.0, 45.0, 45.0, 45.0, 45.0, 50.0, 50.0, 50.0,
                         50.0, 50.0, 50.0, 50.0, 50.0, 50.0, 50.0, 50.0, 50.0, 50.0, 50.0, 50.0])}
envelope_j = {"Encoder-Decoder LSTM": (None, [37.5, 39.0, 40.8, 41.5, 40.8, 38.8, 38.5, 40.5, 41.5, 41.5, 40.2, 38.5,
                                              38.6, 40.3, 41.7, 42.0, 41.0, 38.8, 38.8, 40.3, 41.0, 42.0, 41.2, 39.3])}
envelope_k = {"ConvNeXt": (None, [9.5, 11.5, 20.0, 32.0, 27.0, 14.0, 10.5, 14.0, 23.0, 38.0, 34.0, 15.0,
                                  10.5, 13.0, 24.0, 38.0, 33.0, 15.0, 10.5, 13.0, 24.0, 38.0, 34.0, 14.0])}
envelope_l = {"Encoder-Decoder LSTM": (None, [14.5, 13.0, 22.0, 34.5, 28.0, 13.5, 11.5, 13.0, 24.0, 31.0, 28.0, 14.5,
                                              11.0, 12.5, 23.0, 31.5, 27.0, 13.0, 11.0, 13.0, 24.0, 35.0, 28.0, 14.0])}
envelope_n = {"U-Net": ([8.6, 9.9, 17.0, 28.5, 22.0, 11.0, 9.5, 10.5, 17.5, 28.0, 21.0, 10.5,
                         10.0, 11.5, 18.0, 28.0, 22.0, 11.5, 9.8, 11.0, 18.0, 28.5, 22.0, 12.0],
                        [9.0, 10.5, 18.0, 29.5, 40.0, 40.0, 40.0, 40.0, 40.0, 40.0, 40.0, 40.0,
                         40.0, 40.0, 40.0, 40.0, 40.0, 40.0, 40.0, 40.0, 40.0, 40.0, 40.0, 40.0])}
envelope_o = {"Encoder-Decoder LSTM": (None, [10.0, 13.0, 19.0, 32.0, 25.5, 12.5, 11.0, 12.0, 19.5, 31.5, 25.0, 12.0,
                                              10.5, 12.0, 19.5, 32.0, 25.5, 12.5, 11.0, 12.0, 19.5, 31.5, 25.0, 12.5])}
envelope_p = {"ConvNeXt": (None, [18.5, 17.5, 13.5, 11.0, 11.0, 16.0, 21.0, 18.5, 13.5, 11.0, 11.5, 16.0,
                                  21.0, 20.5, 15.0, 12.5, 14.0, 17.5, 21.0, 19.5, 15.0, 14.0, 14.5, 21.0])}
envelope_q = {"Encoder-Decoder LSTM": (None, [21.0, 19.5, 15.5, 12.5, 12.8, 16.0, 21.0, 19.0, 14.0, 11.5, 12.0, 16.5,
                                              21.0, 19.5, 15.0, 12.5, 13.0, 16.5, 21.0, 20.0, 15.0, 12.0, 12.5, 16.0])}
envelope_s = {"U-Net": ([17.5, 16.3, 13.2, 11.0, 11.0, 13.5, 17.5, 16.5, 12.8, 10.8, 11.0, 14.0,
                         17.8, 16.3, 12.8, 10.8, 11.0, 14.0, 17.5, 16.5, 13.0, 10.8, 10.8, 13.5],
                        [18.0, 17.0, 13.8, 11.5, 25.0, 25.0, 25.0, 25.0, 25.0, 25.0, 25.0, 25.0,
                         25.0, 25.0, 25.0, 25.0, 25.0, 25.0, 25.0, 25.0, 25.0, 25.0, 25.0, 25.0])}

region_mmf = [mmf_global, mmf_tropics, mmf_north, mmf_south]
region_mmf2 = [mmf2_global, mmf2_tropics, mmf2_north, mmf2_south]
panel_grid = [[panel_a, panel_b, panel_c, panel_d, panel_e],
              [panel_f, panel_g, panel_h, panel_i, panel_j],
              [panel_k, panel_l, panel_m, panel_n, panel_o],
              [panel_p, panel_q, panel_r, panel_s, panel_t]]
spread_grid = [[spread_a, spread_b, spread_c, spread_d, spread_e],
               [spread_f, spread_g, spread_h, spread_i, spread_j],
               [spread_k, spread_l, spread_m, spread_n, spread_o],
               [spread_p, spread_q, spread_r, spread_s, spread_t]]
envelope_grid = [[envelope_a, envelope_b, {}, envelope_d, {}],
                 [envelope_f, envelope_g, envelope_h, envelope_i, envelope_j],
                 [envelope_k, envelope_l, {}, envelope_n, envelope_o],
                 [envelope_p, envelope_q, {}, envelope_s, {}]]


def years_for(values):
    return monthly_years if len(values) == 48 else bimonthly_years


# ---------------------------------------------------------------- figure
sns.set_theme(style="ticks")
plt.rcParams["font.family"] = ["DejaVu Sans"]
plt.rcParams["axes.edgecolor"] = "#333333"
plt.rcParams["axes.linewidth"] = 0.8

fig, axes = plt.subplots(4, 5, figsize=(13.25, 7.02), dpi=100,
                         sharex=True, sharey="row")
fig.subplots_adjust(left=0.046, right=0.997, top=0.9245, bottom=0.131,
                    wspace=0.132, hspace=0.222)

LW = 1.35
for r in range(4):
    for c in range(5):
        ax = axes[r, c]
        series = panel_grid[r][c]
        spreads = spread_grid[r][c]
        envelopes = envelope_grid[r][c]

        # shaded ensemble ranges
        for name, color, hw in zip(model_names, model_colors, spreads):
            y = np.asarray(series[name], dtype=float)
            x = years_for(y)
            lo, hi = y - hw, y + hw
            if name in envelopes:
                env_lo, env_hi = envelopes[name]
                if env_lo is not None:
                    lo = np.asarray(env_lo, dtype=float)
                hi = np.asarray(env_hi, dtype=float)
            ax.fill_between(x, lo, hi, color=color, alpha=0.2, linewidth=0)

        # reference simulations
        sns.lineplot(x=monthly_years, y=region_mmf[r], color="black",
                     linewidth=LW, ax=ax)
        sns.lineplot(x=monthly_years, y=region_mmf2[r], color="black",
                     linewidth=LW, linestyle="--", ax=ax)
        # emulator ensemble means
        for name, color in zip(model_names, model_colors):
            y = series[name]
            sns.lineplot(x=years_for(y), y=y, color=color, linewidth=LW,
                         linestyle="--", ax=ax)

        ax.set_xlim(-0.09, 4.18)
        ax.set_ylim(*region_ylims[r])
        ax.set_xticks([0, 1, 2, 3, 4])
        ax.set_yticks(region_yticks[r])
        ax.grid(True, color="#b0b0b0", linewidth=0.8)
        ax.set_axisbelow(True)
        ax.tick_params(labelsize=10, length=3.5, width=0.8, colors="#222222")
        ax.set_xlabel("Years" if r == 3 else "", fontsize=10.5, labelpad=2)
        ax.set_ylabel(regions[r] if c == 0 else "", fontsize=10.5)
        if r == 0:
            ax.set_title(experiments[c], fontsize=11, pad=2.5)
        ax.text(-0.012, 1.0, "(" + panel_letters[r * 5 + c] + ")",
                transform=ax.transAxes, ha="right", va="bottom", fontsize=11)

fig.suptitle("Four Year Online Precipitable Water Area-Weighted Mean Values (kg/m$^2$)",
             y=0.995, va="top", fontsize=12.5)

handles = [Line2D([], [], color="black", lw=LW),
           Line2D([], [], color="black", lw=LW, ls="--")]
handles += [Line2D([], [], color=col, lw=LW, ls="--") for col in model_colors]
labels = ["MMF", "MMF2"] + model_names
fig.legend(handles, labels, loc="upper center", bbox_to_anchor=(0.4975, 0.076),
           ncol=4, fontsize=11, frameon=True, handlelength=2.0,
           columnspacing=1.8, borderpad=0.4, labelspacing=0.35,
           edgecolor="#cccccc", fancybox=True)

fig.savefig("out.png", dpi=100)
